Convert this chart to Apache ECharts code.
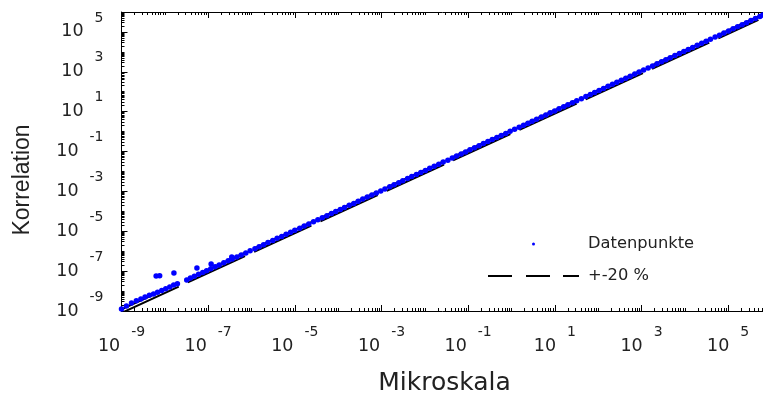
<!DOCTYPE html>
<html><head><meta charset="utf-8">
<script src="https://cdn.jsdelivr.net/npm/echarts@6/dist/echarts.min.js"></script>
<style>html,body{margin:0;padding:0;background:#fff}#c{width:763px;height:394px}</style>
</head><body><div id="c"></div>
<script>
// Datenpunkte (Mikroskala -> Korrelation)
const mikroskala = [
  1.0e-9,1.3e-9,1.7e-9,2.2e-9,2.8e-9,3.5e-9,4.4e-9,5.5e-9,6.3e-9,7.6e-9,6.8e-9,8.5e-9,
  1.05e-8,1.3e-8,1.62e-8,1.6e-8,1.95e-8,3.2e-8,3.9e-8,4.8e-8,5.5e-8,6.0e-8,7.5e-8,9.2e-8,
  1.17e-7,1.15e-7,1.45e-7,1.8e-7,2.3e-7,2.9e-7,3.5e-7,3.6e-7,4.6e-7,5.8e-7,7.4e-7,9.3e-7,
  1.2e-6,1.5e-6,1.9e-6,2.4e-6,3.1e-6,3.9e-6,5.0e-6,6.3e-6,8.0e-6,
  1.0e-5,1.3e-5,1.65e-5,2.1e-5,2.7e-5,3.4e-5,4.3e-5,5.5e-5,7.0e-5,8.8e-5,
  1.12e-4,1.4e-4,1.8e-4,2.3e-4,2.9e-4,3.7e-4,4.7e-4,6.0e-4,7.6e-4,9.6e-4,
  1.2e-3,1.55e-3,1.95e-3,2.5e-3,3.1e-3,4.0e-3,5.0e-3,6.4e-3,8.1e-3,
  1.03e-2,1.3e-2,1.65e-2,2.1e-2,2.65e-2,3.4e-2,4.3e-2,5.4e-2,6.9e-2,8.7e-2,
  0.11,0.14,0.178,0.225,0.285,0.36,0.46,0.58,0.74,0.93,
  1.18,1.5,1.9,2.4,3.0,3.8,4.9,6.2,7.8,
  9.9,12.5,16,20,25.5,32,41,52,66,83,
  105,133,169,214,270,343,435,550,700,880,
  1.12e3,1.42e3,1.8e3,2.28e3,2.9e3,3.65e3,4.6e3,5.9e3,7.5e3,9.5e3,
  1.2e4,1.52e4,1.93e4,2.45e4,3.1e4,3.9e4,5.0e4,6.3e4,8.0e4,
  1.02e5,1.3e5,1.65e5,2.1e5,2.65e5,3.35e5,4.25e5,5.4e5,6.3e5
];
const korrelation = [
  1.25e-9,1.8e-9,2.5e-9,3.3e-9,4.0e-9,5.0e-9,6.1e-9,7.2e-9,5.7e-8,5.8e-8,8.6e-9,1.08e-8,
  1.32e-8,1.62e-8,8.1e-8,2.0e-8,2.35e-8,3.6e-8,4.5e-8,5.5e-8,1.45e-7,6.9e-8,8.6e-8,1.05e-7,
  2.3e-7,1.3e-7,1.65e-7,2.05e-7,2.6e-7,3.3e-7,5.1e-7,4.1e-7,5.1e-7,6.5e-7,8.2e-7,1.04e-6,
  1.33e-6,1.68e-6,2.1e-6,2.7e-6,3.4e-6,4.4e-6,5.5e-6,7.0e-6,8.9e-6,
  1.12e-5,1.42e-5,1.85e-5,2.3e-5,3.0e-5,3.8e-5,4.8e-5,6.0e-5,7.8e-5,9.8e-5,
  1.24e-4,1.56e-4,2.0e-4,2.5e-4,3.2e-4,4.1e-4,5.2e-4,6.6e-4,8.4e-4,1.06e-3,
  1.33e-3,1.7e-3,2.15e-3,2.75e-3,3.45e-3,4.4e-3,5.6e-3,7.0e-3,9.0e-3,
  1.13e-2,1.44e-2,1.82e-2,2.3e-2,2.95e-2,3.7e-2,4.7e-2,6.0e-2,7.6e-2,9.6e-2,
  0.122,0.155,0.196,0.25,0.315,0.40,0.51,0.64,0.81,1.03,
  1.3,1.65,2.1,2.65,3.35,4.2,5.4,6.8,8.7,
  10.9,13.9,17.6,22,28,35.5,45,57,73,92,
  116,147,186,236,298,378,480,606,770,970,
  1.23e3,1.56e3,1.98e3,2.5e3,3.2e3,4.0e3,5.1e3,6.5e3,8.2e3,1.04e4,
  1.32e4,1.68e4,2.12e4,2.7e4,3.4e4,4.3e4,5.5e4,6.9e4,8.8e4,
  1.12e5,1.43e5,1.8e5,2.3e5,2.9e5,3.7e5,4.7e5,6.0e5,7.0e5
];
// +-20 % Grenzlinien
const grenzeX = [1e-9, 5e5];
const grenzeOben = [1.2e-9, 6e5];
const grenzeUnten = [0.8e-9, 4e5];
// Achsen: Zehnerpotenzen
const decadeMin = -9, decadeMax = 6;
const xLabelExp = [-9, -7, -5, -3, -1, 1, 3, 5];
const yLabelExp = [-9, -7, -5, -3, -1, 1, 3, 5];

const lg = v => Math.log10(v);
const minorTicks = [];
for (let d = decadeMin; d < decadeMax; d++) for (let k = 1; k <= 9; k++) minorTicks.push(d + Math.log10(k));
minorTicks.push(decadeMax);

const FONT = 'DejaVu Sans, Liberation Sans, sans-serif';
const FONT_V = 'Liberation Sans, Arial, sans-serif';
const rich = {
  b: {fontSize: 17.5, color: '#222', fontFamily: FONT},
  e: {fontSize: 14, color: '#222', fontFamily: FONT, padding: [0, 0, 28, 11]}
};
const fmt = v => '{b|10}{e|' + Math.round(v) + '}';

function axis(position, isX, major, labels, extra) {
  const o = {
    type: 'value', position, min: decadeMin, max: decadeMax, interval: 1,
    axisLine: {show: !major, onZero: false, lineStyle: {color: '#000', width: 1}},
    axisTick: {show: true, inside: true, length: major ? 6 : 3,
      customValues: major ? (isX ? xLabelExp : yLabelExp) : minorTicks,
      lineStyle: {color: '#000', width: 1}},
    axisLabel: labels ? {show: true, customValues: isX ? xLabelExp : yLabelExp,
      formatter: fmt, rich, margin: isX ? 14 : 18} : {show: false},
    splitLine: {show: false}
  };
  return Object.assign(o, extra || {});
}

const chart = echarts.init(document.getElementById('c'));
chart.setOption({
  animation: false,
  backgroundColor: '#fff',
  textStyle: {fontFamily: FONT},
  grid: {left: 121.5, top: 12, width: 650, height: 299, containLabel: false, outerBoundsMode: 'none'},
  xAxis: [
    axis('bottom', true, false, true, {name: 'Mikroskala', nameLocation: 'middle', nameGap: 60,
      nameTextStyle: {fontSize: 25, color: '#222', fontFamily: FONT, padding: [0, 4, 0, 0]}}),
    axis('bottom', true, true, false),
    axis('top', true, false, false),
    axis('top', true, true, false)
  ],
  yAxis: [
    axis('left', false, false, true, {name: 'Korrelation', nameLocation: 'middle', nameGap: 87,
      nameTextStyle: {fontSize: 23, color: '#222', fontFamily: FONT_V, padding: [0, 37, 0, 0]}}),
    axis('left', false, true, false),
    axis('right', false, false, false),
    axis('right', false, true, false)
  ],
  legend: {
    orient: 'vertical', left: 483, top: 231, itemWidth: 91, itemHeight: 3, itemGap: 16,
    textStyle: {fontSize: 16.3, color: '#222', fontFamily: FONT, padding: [0, 0, 0, 4]},
    data: [
      {name: 'Datenpunkte', icon: 'circle'},
      {name: '+-20 %', icon: 'path://M0 0h24v2h-24z M38 0h24v2h-24z M75 0h16v2h-16z', itemStyle: {color: '#000'}}
    ]
  },
  series: [
    {type: 'line', name: '+-20 %', xAxisIndex: 0, yAxisIndex: 0, symbol: 'none',
      data: grenzeX.map((x, i) => [lg(x), lg(grenzeOben[i])]),
      lineStyle: {color: '#000', width: 2, type: [63, 10]}, itemStyle: {color: '#000'}, z: 2},
    {type: 'line', name: '+-20 %', xAxisIndex: 0, yAxisIndex: 0, symbol: 'none',
      data: grenzeX.map((x, i) => [lg(x), lg(grenzeUnten[i])]),
      lineStyle: {color: '#000', width: 2, type: [63, 10]}, itemStyle: {color: '#000'}, z: 2},
    {type: 'scatter', name: 'Datenpunkte', xAxisIndex: 0, yAxisIndex: 0, symbolSize: 5.5,
      data: mikroskala.map((x, i) => [lg(x), lg(korrelation[i])]),
      itemStyle: {color: '#0000ff', opacity: 1}, z: 3}
  ]
});
</script></body></html>
